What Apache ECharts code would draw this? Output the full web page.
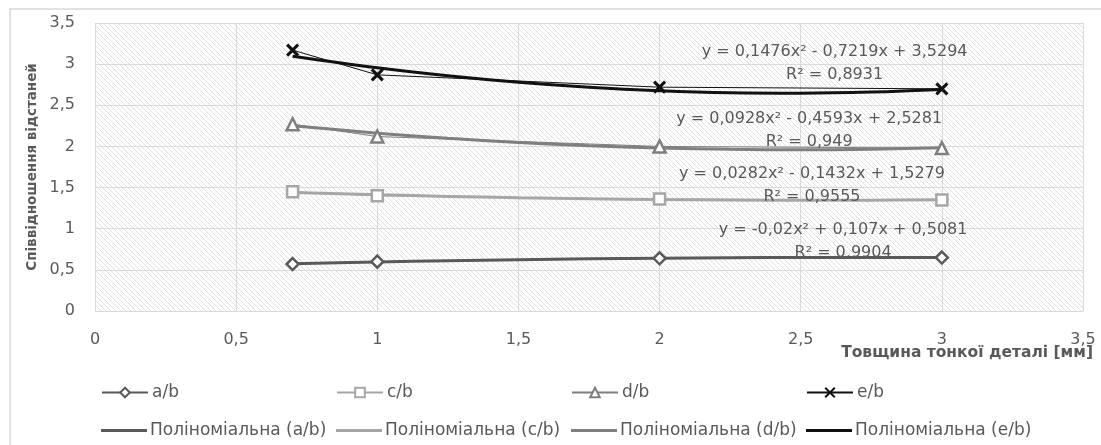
<!DOCTYPE html>
<html>
<head>
<meta charset="utf-8">
<script src="https://cdn.jsdelivr.net/npm/echarts@6/dist/echarts.min.js"></script>
<style>
html,body{margin:0;padding:0;background:#fff;}
#chart{width:1101px;height:445px;}
</style>
</head>
<body>
<div id="chart"></div>
<script>
// ---- data ----
var xPoints = [0.7, 1, 2, 3];
var abValues = [0.57, 0.60, 0.64, 0.65];
var cbValues = [1.45, 1.40, 1.36, 1.35];
var dbValues = [2.27, 2.12, 2.00, 1.98];
var ebValues = [3.17, 2.87, 2.72, 2.70];

var trendX = [0.7, 1, 1.25, 1.5, 1.75, 2, 2.25, 2.5, 2.75, 3];
var abTrend = [0.5732, 0.5951, 0.6106, 0.6236, 0.6341, 0.6421, 0.6476, 0.6506, 0.6511, 0.6491];
var cbTrend = [1.4415, 1.4129, 1.3930, 1.3766, 1.3637, 1.3543, 1.3485, 1.3462, 1.3474, 1.3521];
var dbTrend = [2.2521, 2.1616, 2.0990, 2.0480, 2.0085, 1.9807, 1.9645, 1.9599, 1.9668, 1.9854];
var ebTrend = [3.0964, 2.9551, 2.8576, 2.7786, 2.7181, 2.6760, 2.6523, 2.6471, 2.6604, 2.6921];

var seriesNames = ['a/b', 'c/b', 'd/b', 'e/b'];
var trendNames = ['Поліноміальна (a/b)', 'Поліноміальна (c/b)', 'Поліноміальна (d/b)', 'Поліноміальна (e/b)'];
var equations = [
  'y = -0,02x² + 0,107x + 0,5081\nR² = 0,9904',
  'y = 0,0282x² - 0,1432x + 1,5279\nR² = 0,9555',
  'y = 0,0928x² - 0,4593x + 2,5281\nR² = 0,949',
  'y = 0,1476x² - 0,7219x + 3,5294\nR² = 0,8931'
];
var xTitle = 'Товщина тонкої деталі [мм]';
var yTitle = 'Співвідношення відстаней';

// ---- styles ----
var FONT = 'DejaVu Sans';
var TXT = '#595959';
var colors = ['#595959', '#a6a6a6', '#7f7f7f', '#111111'];
var symbols = ['diamond', 'rect', 'triangle', 'path://M0,0L10,10M10,0L0,10'];
var symbolSizes = [12, 11, 12, 11];
var eqPos = [[2.65, 0.85], [2.54, 1.525], [2.53, 2.19], [2.62, 3.01]];

function pairs(xs, ys) { return xs.map(function (x, i) { return [x, ys[i]]; }); }

var hatch = document.createElement('canvas');
hatch.width = 5; hatch.height = 5;
var hc = hatch.getContext('2d');
hc.fillStyle = '#ffffff'; hc.fillRect(0, 0, 5, 5);
hc.fillStyle = '#e0e0e0';
for (var i = 0; i < 5; i++) hc.fillRect(i, i, 1, 1);

var valuesAll = [abValues, cbValues, dbValues, ebValues];
var trendsAll = [abTrend, cbTrend, dbTrend, ebTrend];

var series = [];
trendsAll.forEach(function (t, k) {
  series.push({
    name: trendNames[k], type: 'line', smooth: 0.4, symbol: 'none', showSymbol: false,
    data: pairs(trendX, t),
    lineStyle: { color: colors[k], width: 3 },
    itemStyle: { color: colors[k] },
    z: 2,
    markPoint: {
      symbol: 'circle', symbolSize: 1, itemStyle: { color: 'transparent' },
      label: { show: true, position: 'inside', color: TXT, fontFamily: FONT, fontSize: 16, lineHeight: 23, align: 'center',
        formatter: function (p) { return p.name; } },
      data: [{ name: equations[k], coord: eqPos[k] }]
    }
  });
});
valuesAll.forEach(function (v, k) {
  series.push({
    name: seriesNames[k], type: 'line', data: pairs(xPoints, v),
    symbol: symbols[k], symbolSize: symbolSizes[k], showSymbol: true,
    lineStyle: { color: colors[k], width: 1 },
    itemStyle: k === 3 ? { color: 'none', borderColor: colors[k], borderWidth: 3 } :
      { color: '#ffffff', borderColor: colors[k], borderWidth: 2.5 },
    z: 3
  });
});

var legends = [];
var colX = [96, 331, 566, 801];
seriesNames.forEach(function (n, k) {
  legends.push({ data: [n], left: colX[k], top: 379, itemWidth: 46, itemHeight: 12, itemGap: 0,
    textStyle: { color: TXT, fontFamily: FONT, fontSize: 17, padding: [0, 0, 0, -1] }, selectedMode: false });
});
trendNames.forEach(function (n, k) {
  legends.push({ data: [{ name: n, icon: 'rect' }], left: colX[k], top: 417, itemWidth: 46, itemHeight: 3, itemGap: 0,
    textStyle: { color: TXT, fontFamily: FONT, fontSize: 17, padding: [0, 0, 0, -2] }, selectedMode: false });
});

var fmt = function (v) { return String(v).replace('.', ','); };

var option = {
  animation: false,
  backgroundColor: '#ffffff',
  grid: { left: 95, right: 18, top: 23, bottom: 134, show: true, borderWidth: 0,
    backgroundColor: { image: hatch, repeat: 'repeat' } },
  xAxis: {
    type: 'value', min: 0, max: 3.5, interval: 0.5,
    axisLine: { show: true, lineStyle: { color: '#d9d9d9' } },
    axisTick: { show: false },
    splitLine: { show: true, lineStyle: { color: '#d9d9d9', width: 1 } },
    axisLabel: { color: TXT, fontFamily: FONT, fontSize: 16, margin: 21, formatter: fmt, showMaxLabel: true, showMinLabel: true }
  },
  yAxis: {
    type: 'value', min: 0, max: 3.5, interval: 0.5,
    axisLine: { show: false }, axisTick: { show: false },
    splitLine: { show: true, lineStyle: { color: '#d9d9d9', width: 1 } },
    axisLabel: { color: TXT, fontFamily: FONT, fontSize: 16, margin: 20, formatter: fmt }
  },
  legend: legends,
  graphic: [
    { type: 'rect', x: 10, y: 9, shape: { width: 1200, height: 600 }, style: { fill: 'none', stroke: '#d9d9d9', lineWidth: 1.5 }, z: -10, silent: true },
    { type: 'text', x: 32, y: 167, rotation: Math.PI / 2, style: { text: yTitle, fill: TXT, font: 'bold 13.5px "DejaVu Sans"', textAlign: 'center', textVerticalAlign: 'middle' } },
    { type: 'text', x: 1093, y: 353, style: { text: xTitle, fill: TXT, font: 'bold 15.5px "DejaVu Sans"', textAlign: 'right', textVerticalAlign: 'middle' } }
  ],
  series: series
};

var chart = echarts.init(document.getElementById('chart'), null, { renderer: 'canvas' });
chart.setOption(option);
</script>
</body>
</html>
